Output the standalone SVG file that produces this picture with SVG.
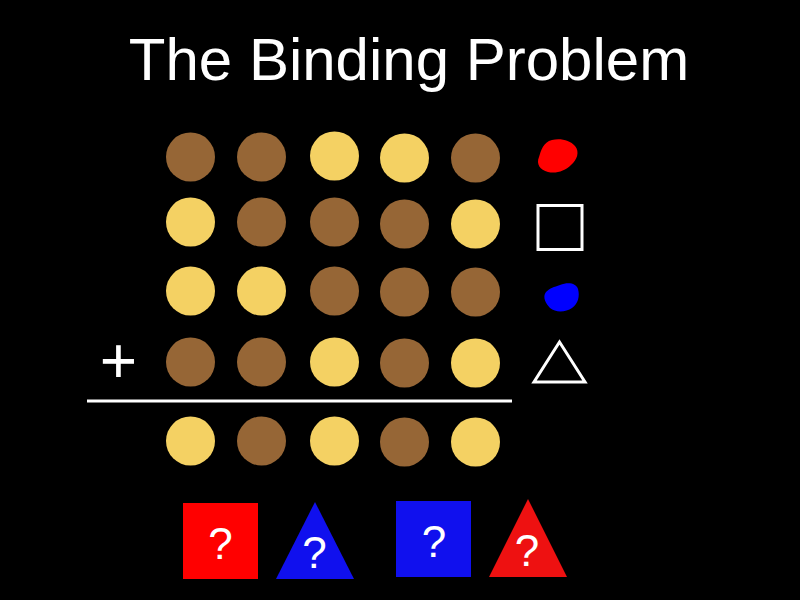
<svg xmlns="http://www.w3.org/2000/svg" width="800" height="600" viewBox="0 0 800 600">
<style>
text{font-family:"Liberation Sans",Arial,sans-serif;fill:#fff}
.b{fill:#966636}
.y{fill:#F4D163}
.q{font-size:44px;text-anchor:middle}
</style>
<rect width="800" height="600" fill="#000"/>
<text x="409" y="80" font-size="60" text-anchor="middle">The Binding Problem</text>
<g id="grid">
<circle class="b" cx="190.5" cy="157" r="24.5"/><circle class="b" cx="261.5" cy="157" r="24.5"/><circle class="y" cx="334.5" cy="156" r="24.5"/><circle class="y" cx="404.5" cy="158" r="24.5"/><circle class="b" cx="475.5" cy="158" r="24.5"/>
<circle class="y" cx="190.5" cy="222" r="24.5"/><circle class="b" cx="261.5" cy="222" r="24.5"/><circle class="b" cx="334.5" cy="222" r="24.5"/><circle class="b" cx="404.5" cy="224" r="24.5"/><circle class="y" cx="475.5" cy="224" r="24.5"/>
<circle class="y" cx="190.5" cy="291" r="24.5"/><circle class="y" cx="261.5" cy="291" r="24.5"/><circle class="b" cx="334.5" cy="291" r="24.5"/><circle class="b" cx="404.5" cy="292" r="24.5"/><circle class="b" cx="475.5" cy="292" r="24.5"/>
<circle class="b" cx="190.5" cy="362" r="24.5"/><circle class="b" cx="261.5" cy="362" r="24.5"/><circle class="y" cx="334.5" cy="362" r="24.5"/><circle class="b" cx="404.5" cy="363" r="24.5"/><circle class="y" cx="475.5" cy="363" r="24.5"/>
<circle class="y" cx="190.5" cy="441" r="24.5"/><circle class="b" cx="261.5" cy="441" r="24.5"/><circle class="y" cx="334.5" cy="441" r="24.5"/><circle class="b" cx="404.5" cy="442" r="24.5"/><circle class="y" cx="475.5" cy="442" r="24.5"/>
</g>
<g id="sum">
<text x="118.5" y="383" font-size="64" text-anchor="middle">+</text>
<line x1="87" y1="401" x2="512" y2="401" stroke="#fff" stroke-width="3"/>
</g>
<g id="features">
<path d="M552,140 C560,138 570,140 575,146 C580,152 577,160 571,165 C565,171 556,174 548,172 C540,170 536,164 539,157 C541,151 543,142 552,140 Z" fill="#ff0000"/>
<rect x="538" y="205.5" width="44" height="44" fill="none" stroke="#fff" stroke-width="3"/>
<path d="M560,285 C568,282 576,283 578,289 C580,296 578,304 572,308 C566,312 556,313 550,308 C546,304 542,297 546,292 C550,288 554,287 560,285 Z" fill="#0000ff"/>
<polygon points="559.5,342 585,382 534,382" fill="none" stroke="#fff" stroke-width="3"/>
</g>
<g id="answers">
<g id="a1"><rect x="183" y="503" width="75" height="76" fill="#ff0000"/><text class="q" x="220.5" y="559">?</text></g>
<g id="a2"><polygon points="315,502 354,579 276,579" fill="#1010ee"/><text class="q" x="314.5" y="568">?</text></g>
<g id="a3"><rect x="396" y="501" width="75" height="76" fill="#1010ee"/><text class="q" x="434" y="557">?</text></g>
<g id="a4"><polygon points="528,499 567,577 489,577" fill="#ee1111"/><text class="q" x="527" y="566">?</text></g>
</g>
</svg>
